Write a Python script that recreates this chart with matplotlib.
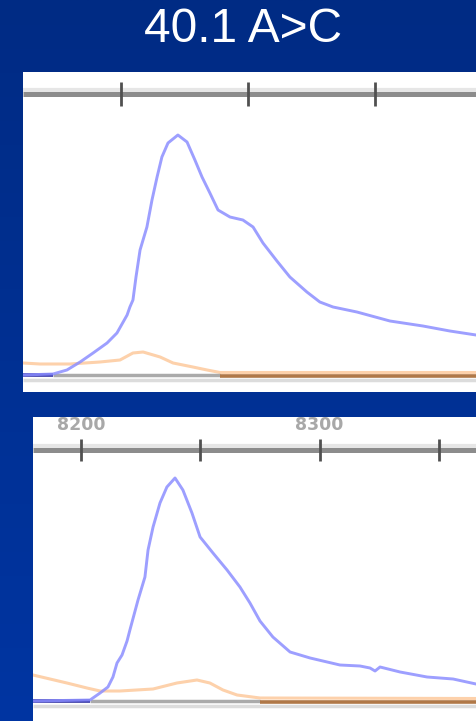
import numpy as np
import matplotlib
matplotlib.use("Agg")
import matplotlib.pyplot as plt
import matplotlib.transforms as mtransforms

# ---- data (scan position, signal) ----
# top trace, 40.1 A>C
top_blue_x = [8111.4, 8123.2, 8128.7, 8133.9, 8139.0, 8144.5, 8148.4, 8152.4, 8153.5, 8154.7,
              8155.9, 8157.5, 8160.2, 8162.2, 8164.2, 8166.1, 8168.5, 8172.4, 8176.0, 8179.1,
              8181.9, 8185.0, 8188.2, 8192.9, 8198.0, 8202.0, 8205.9, 8211.4, 8216.5, 8223.2,
              8228.3, 8233.5, 8242.9, 8255.9, 8268.9, 8279.5, 8289.8]
top_blue_y = [0, 10, 50, 130, 220, 320, 420, 600, 680, 750,
              980, 1250, 1480, 1750, 1980, 2180, 2320, 2400, 2330, 2150,
              1980, 1820, 1650, 1580, 1550, 1480, 1320, 1140, 980, 830,
              730, 680, 630, 540, 490, 440, 400]
top_orange_x = [8111.4, 8118.1, 8129.9, 8141.7, 8149.6, 8154.7, 8158.7, 8165.4, 8170.5,
                8178.3, 8183.9, 8189.0, 8289.8]
top_orange_y = [120, 110, 110, 130, 150, 220, 230, 180, 120, 80, 50, 25, 25]
top_ticks = [8150, 8200, 8250, 8300]
top_labels = {8200: "8200", 8300: "8300"}
top_xlim = (8111.4, 8289.8)
top_ylim = (-170, 3030)
top_base_navy = (8111.4, 8123.2)
top_base_gray = (8123.2, 8189.0)
top_base_brown = (8189.0, 8289.8)

# bottom trace
bot_blue_x = [8179.9, 8203.8, 8208.0, 8211.3, 8213.4, 8215.1, 8217.2, 8219.3, 8220.5, 8223.9,
              8226.8, 8228.1, 8230.2, 8233.1, 8236.0, 8239.4, 8242.7, 8246.5, 8249.9, 8255.3,
              8261.2, 8266.6, 8270.8, 8275.0, 8280.4, 8287.6, 8296.0, 8308.5, 8316.9, 8321.1,
              8323.2, 8325.3, 8333.7, 8345.0, 8355.9, 8365.5]
bot_blue_y = [0, 10, 80, 140, 240, 380, 460, 600, 710, 1010,
              1240, 1510, 1740, 1980, 2140, 2230, 2110, 1880, 1640, 1480,
              1310, 1140, 980, 800, 640, 490, 430, 360, 350, 330,
              300, 340, 290, 240, 220, 170]
bot_orange_x = [8179.9, 8187.0, 8194.1, 8202.5, 8208.0, 8216.3, 8230.2, 8240.2, 8248.6,
                8254.0, 8259.5, 8265.4, 8275.0, 8365.5]
bot_orange_y = [260, 220, 180, 130, 100, 100, 120, 180, 210, 180, 110, 60, 30, 25]
bot_ticks = [8200, 8250, 8300, 8350]
bot_labels = {8200: "8200", 8300: "8300"}
bot_xlim = (8179.9, 8365.5)
bot_ylim = (-200, 2840)
bot_base_navy = (8179.9, 8203.8)
bot_base_gray = (8203.8, 8275.0)
bot_base_brown = (8275.0, 8365.5)

W, H = 476, 721
fig = plt.figure(figsize=(W / 100, H / 100), dpi=100)

# slide background, darker at the top
bg = fig.add_axes([0, 0, 1, 1])
grad = np.linspace(0, 1, 256).reshape(-1, 1)
bg.imshow(grad, aspect="auto", extent=[0, 1, 0, 1], origin="lower",
          cmap=matplotlib.colors.LinearSegmentedColormap.from_list("bg", ["#0035a2", "#002b84"]))
bg.set_axis_off()
fig.text(243 / W, 1 - 30 / H, "40.1 A>C", color="white", fontsize=34.5,
         family="Liberation Sans", ha="center", va="center")

BLUE = "#8c8eff"
ORANGE = "#fdc99c"


def panel(rect, bx, by, ox, oy, ticks, labels, xlim, ylim, ruler_frac, tick_half, lab_off,
          navy, gray, brown):
    ax = fig.add_axes(rect)
    ax.set_facecolor("white")
    ax.set_xlim(*xlim)
    ax.set_ylim(*ylim)
    for s in ax.spines.values():
        s.set_visible(False)
    ax.set_xticks([])
    ax.set_yticks([])
    trans = mtransforms.blended_transform_factory(ax.transData, ax.transAxes)

    # ruler on top
    h_px = rect[3] * H
    ax.plot(xlim, [ruler_frac + 4 / h_px] * 2, color="#e6e6e6", lw=3, transform=trans, solid_capstyle="butt")
    ax.plot(xlim, [ruler_frac] * 2, color="#8c8c8c", lw=3.6, transform=trans, solid_capstyle="butt")
    ax.vlines(ticks, ruler_frac - tick_half / h_px, ruler_frac + tick_half / h_px,
              color="#505050", lw=2.0, transform=trans)
    for t, lab in labels.items():
        ax.text(t, ruler_frac + lab_off / h_px, lab, transform=trans, ha="center", va="center",
                fontsize=12.5, fontweight="bold", color="#a8a8a8", clip_on=True)

    # traces
    ax.plot(ox, oy, color=ORANGE, lw=2.2, alpha=0.85)

    # baselines
    ax.plot(xlim, [-45, -45], color="#dcdcdc", lw=2.5, solid_capstyle="butt")
    ax.plot(navy, [0, 0], color="#2f2fa0", lw=2.6, solid_capstyle="butt")
    ax.plot(gray, [0, 0], color="#aaaaaa", lw=2.5, solid_capstyle="butt")
    ax.plot(brown, [-5, -5], color="#b07848", lw=2.6, solid_capstyle="butt")

    ax.plot(bx, by, color=BLUE, lw=2.1, alpha=0.85)
    return ax


panel([23 / W, (H - 392) / H, 453 / W, 320 / H], top_blue_x, top_blue_y, top_orange_x, top_orange_y,
      top_ticks, top_labels, top_xlim, top_ylim, (392 - 93.5) / 320, 12, 26.5,
      top_base_navy, top_base_gray, top_base_brown)
panel([33 / W, 0, 443 / W, 304 / H], bot_blue_x, bot_blue_y, bot_orange_x, bot_orange_y,
      bot_ticks, bot_labels, bot_xlim, bot_ylim, (721 - 449.5) / 304, 11, 24.5,
      bot_base_navy, bot_base_gray, bot_base_brown)

fig.savefig("out.png", dpi=100)
